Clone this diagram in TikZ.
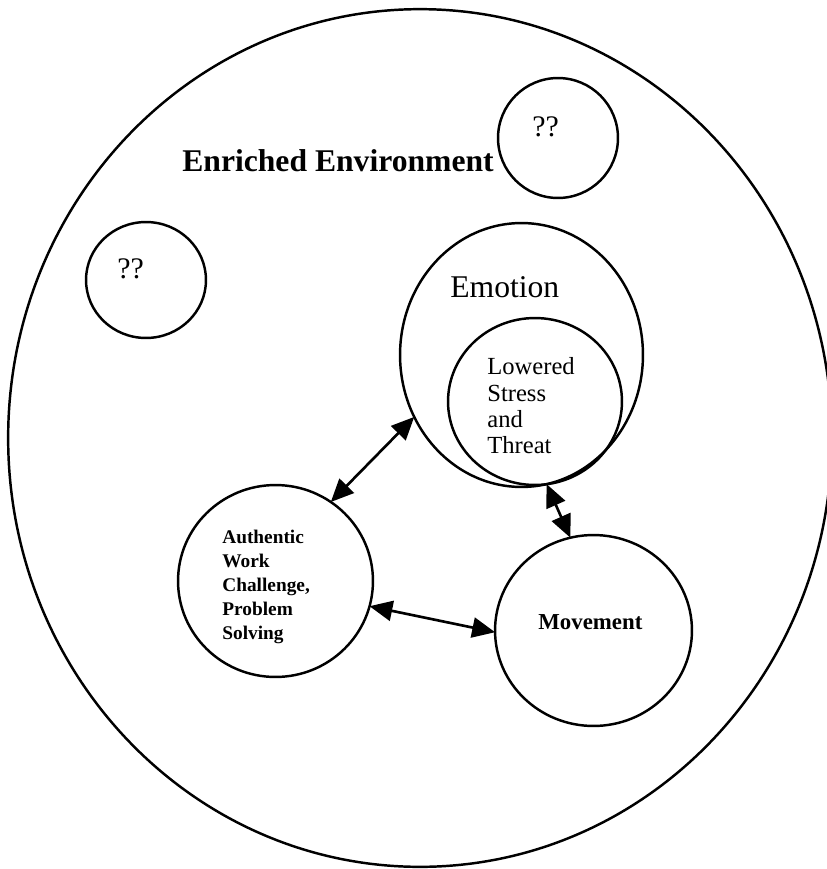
\documentclass[tikz,border=0pt]{standalone}
\usepackage{fontspec}
\setmainfont{Liberation Serif}
\usetikzlibrary{arrows.meta, shapes.geometric}

\begin{document}
\begin{tikzpicture}[
    x=0.02cm, y=-0.02cm,
    ring/.style 2 args={draw, ellipse, line width=1.4pt, inner sep=0pt, outer sep=0pt,
        minimum width=#1*0.04cm, minimum height=#2*0.04cm},
    lbl/.style={inner sep=0pt, align=left},
    arr/.style={{Triangle[length=13pt, width=11.5pt]}-{Triangle[length=13pt, width=11.5pt]}, line width=1.5pt}
]
    \useasboundingbox (0,0) rectangle (827,869);
    % circles
    \node[ring={412}{429}] (env) at (420,438) {};
    \node[ring={60}{60}] (qa) at (558,138) {};
    \node[ring={60}{58}] (qb) at (146,280) {};
    \node[ring={121.5}{132}] (emo) at (521.5,355) {};
    \node[ring={87}{83.5}] (stress) at (535,401.5) {};
    \node[ring={97.5}{96}] (auth) at (275.5,581) {};
    \node[ring={98.5}{95.5}] (move) at (593.5,630.5) {};
    % labels
    \node[lbl, anchor=base west, font=\fontsize{18}{20}\selectfont\bfseries] (envtxt) at (182,171) {Enriched Environment};
    \node[lbl, anchor=base west, font=\fontsize{17}{19}\selectfont] (qatxt) at (532,136) {??};
    \node[lbl, anchor=base west, font=\fontsize{17}{19}\selectfont] (qbtxt) at (117,278) {??};
    \node[lbl, anchor=base west, font=\fontsize{18}{20}\selectfont] (emotxt) at (450,297) {Emotion};
    \node[lbl, anchor=west, font=\fontsize{14}{15}\selectfont] (stresstxt) at (487,406) {Lowered\\Stress\\and\\Threat};
    \node[lbl, anchor=west, font=\fontsize{11}{13.6}\selectfont\bfseries] (authtxt) at (222,587) {Authentic\\Work\\Challenge,\\Problem\\Solving};
    \node[lbl, anchor=base west, font=\fontsize{13}{15}\selectfont\bfseries] (movetxt) at (538,629) {Movement};
    % links
    \draw[arr] (auth.55) -- (emo.210);
    \draw[arr] (auth.-15) -- (move.181);
    \draw[arr] (emo.-79) -- (move.104);
\end{tikzpicture}
\end{document}
